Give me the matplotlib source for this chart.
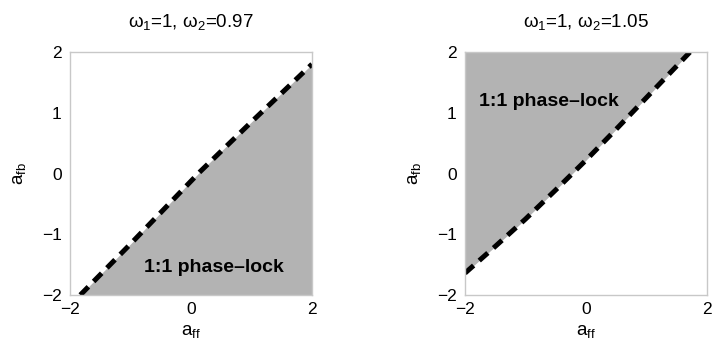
import matplotlib
matplotlib.use('Agg')
import matplotlib.pyplot as plt

plt.rcParams['font.family'] = ['Liberation Sans', 'DejaVu Sans']
plt.rcParams['mathtext.fontset'] = 'custom'
plt.rcParams['mathtext.rm'] = 'Liberation Sans'
plt.rcParams['mathtext.it'] = 'Liberation Sans'

# boundary of the 1:1 phase-lock region
left_aff = [-1.83, -1.0, 0.15, 1.0, 2.0]
left_afb = [-2.0, -1.16, 0.03, 0.85, 1.80]
right_aff = [-2.0, -1.5, -1.0, -0.5, 0.0, 0.5, 1.0, 1.72]
right_afb = [-1.64, -1.20, -0.75, -0.27, 0.22, 0.73, 1.25, 2.0]

titles = ['ω$_1$=1, ω$_2$=0.97', 'ω$_1$=1, ω$_2$=1.05']
xticks = [-2, 0, 2]
yticks = [-2, -1, 0, 1, 2]
label = '1:1 phase\u2013lock'

fill_col = '#b3b3b3'
frame_col = '#c8c8c8'

fig = plt.figure(figsize=(7.13, 3.48), dpi=100)
ax1 = fig.add_axes([70 / 713, 53 / 348, 242 / 713, 243 / 348])
ax2 = fig.add_axes([465 / 713, 53 / 348, 242 / 713, 243 / 348])

# left: locked below the line
ax1.fill_between(left_aff + [2.0], left_afb + [-2.0], -2, color=fill_col, lw=0)
ax1.plot(left_aff, left_afb, color='black', lw=3.6, ls=(0, (2.3, 1.5)),
         dash_capstyle='butt')
ax1.text(0.38, -1.54, label, fontsize=14, fontweight='bold',
         ha='center', va='center')

# right: locked above the line
ax2.fill_between(right_aff + [2.0], right_afb + [2.0], 2, color=fill_col, lw=0)
ax2.plot(right_aff, right_afb, color='black', lw=3.6, ls=(0, (2.3, 1.5)),
         dash_capstyle='butt')
ax2.text(-0.61, 1.18, label, fontsize=14, fontweight='bold',
         ha='center', va='center')

for ax, t in zip([ax1, ax2], titles):
    ax.set_xlim(-2, 2)
    ax.set_ylim(-2, 2)
    ax.set_xticks(xticks)
    ax.set_yticks(yticks)
    ax.tick_params(length=0, labelsize=12.5)
    ax.tick_params(axis='y', pad=6)
    ax.tick_params(axis='x', pad=5)
    for s in ax.spines.values():
        s.set_color(frame_col)
        s.set_linewidth(1.0)
    ax.set_title(t, fontsize=13.5, pad=18)
    ax.set_xlabel(r'a$_{\rm ff}$', fontsize=13.5, labelpad=4)
    ax.set_ylabel(r'a$_{\rm fb}$', fontsize=13.5, labelpad=10)

fig.savefig('out.png', dpi=100)
